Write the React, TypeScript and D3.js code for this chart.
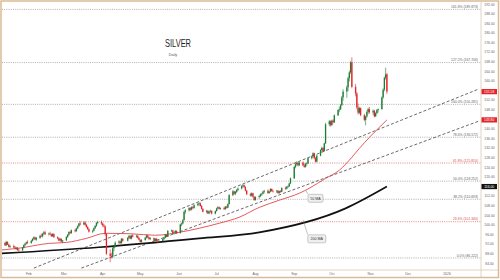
import * as d3 from "d3";

const W = 500;
const H = 280;

// daily candles [open, high, low, close], one row per trading week
const ohlc: number[][] = [
  [89.5, 91.0, 89.0, 90.6], [90.6, 91.4, 90.0, 90.8],
  [90.8, 92.0, 90.3, 91.5], [91.5, 92.6, 91.0, 92.2], [92.2, 92.5, 91.2, 91.6], [91.6, 92.3, 91.1, 91.9], [91.9, 93.0, 91.5, 92.5],
  [92.5, 93.0, 91.2, 91.5], [91.5, 93.4, 91.3, 92.9], [92.9, 93.2, 91.6, 91.8], [91.8, 92.1, 90.6, 90.9], [90.9, 91.7, 90.3, 91.2],
  [91.2, 91.8, 90.4, 90.6], [90.6, 91.2, 89.8, 90.1], [90.1, 90.9, 89.5, 90.5], [90.5, 90.8, 89.2, 89.6], [89.6, 90.2, 88.9, 89.4],
  [89.4, 90.8, 89.0, 90.5], [90.5, 91.9, 90.2, 91.6], [91.6, 92.5, 91.1, 92.2], [92.2, 93.1, 91.8, 92.8], [92.8, 93.6, 92.0, 92.5],
  [92.5, 93.8, 92.1, 93.4], [93.4, 94.6, 93.0, 94.2], [94.2, 95.3, 93.8, 94.8], [94.8, 95.1, 93.6, 93.9], [93.9, 95.0, 93.4, 94.6],
  [94.6, 95.9, 94.2, 95.5], [95.5, 96.4, 94.9, 95.2], [95.2, 96.7, 94.8, 96.3], [96.3, 97.4, 95.9, 96.9], [96.9, 97.6, 95.8, 96.1],
  [96.1, 96.8, 95.6, 96.4], [96.4, 97.2, 95.8, 96.0], [96.0, 96.5, 95.0, 95.3], [95.3, 96.6, 95.0, 96.2], [96.2, 96.5, 94.6, 94.9],
  [94.9, 95.3, 94.0, 94.4], [94.4, 94.7, 93.2, 93.5], [93.5, 94.6, 93.1, 94.2], [94.2, 94.4, 92.8, 93.1], [93.1, 93.5, 92.4, 93.6],
  [93.6, 95.4, 93.3, 95.0], [95.0, 96.2, 94.6, 95.9], [95.9, 97.3, 95.5, 97.0], [97.0, 97.6, 96.2, 96.6], [96.6, 98.1, 96.3, 97.8],
  [97.8, 98.3, 96.9, 97.4], [97.4, 98.9, 97.1, 98.6], [98.6, 99.8, 98.2, 99.5], [99.5, 100.9, 99.1, 100.6], [100.6, 101.6, 99.8, 100.2],
  [100.2, 101.4, 99.9, 101.0], [101.0, 101.6, 99.6, 100.1], [100.1, 100.5, 98.8, 99.1], [99.1, 99.6, 97.9, 98.2], [98.2, 98.6, 96.8, 97.2],
  [97.2, 98.0, 96.6, 97.6], [97.6, 99.0, 97.3, 98.7], [98.7, 99.9, 98.3, 99.6], [99.6, 101.2, 99.2, 100.8], [100.8, 101.8, 100.3, 101.2],
  [101.2, 101.9, 100.0, 100.6], [100.6, 101.0, 99.2, 99.8], [99.8, 100.4, 98.9, 99.4], [99.4, 99.8, 95.5, 96.2], [96.2, 96.5, 87.5, 88.0],
  [88.0, 89.8, 84.4, 87.1], [87.1, 88.4, 86.0, 86.7], [86.7, 90.8, 86.2, 90.3], [90.3, 91.4, 89.0, 90.9], [90.9, 93.2, 90.5, 92.6],
  [92.6, 93.6, 92.0, 93.1], [93.1, 93.4, 92.1, 92.4], [92.4, 94.6, 92.2, 94.2], [94.2, 94.5, 93.0, 93.4],
  [93.4, 95.0, 93.1, 94.6], [94.6, 95.8, 94.2, 95.4], [95.4, 95.7, 94.0, 94.3], [94.3, 95.9, 94.0, 95.6], [95.6, 96.2, 94.8, 95.1],
  [95.1, 95.9, 94.7, 95.5], [95.5, 95.7, 94.3, 94.6], [94.6, 94.9, 93.5, 93.8], [93.8, 94.0, 92.6, 92.9], [92.9, 94.1, 92.6, 93.7],
  [93.7, 95.0, 93.4, 94.7], [94.7, 96.0, 94.3, 95.6], [95.6, 95.9, 94.4, 94.8], [94.8, 95.1, 93.8, 94.1], [94.1, 94.9, 93.7, 94.5],
  [94.5, 94.8, 92.9, 93.3], [93.3, 94.6, 93.0, 94.2], [94.2, 94.6, 93.1, 93.4], [93.4, 93.8, 92.5, 93.1], [93.1, 93.9, 92.7, 93.3],
  [93.3, 94.4, 93.0, 94.1], [94.1, 95.0, 93.8, 94.6], [94.6, 96.2, 94.4, 95.9], [95.9, 96.1, 94.9, 95.2], [95.2, 97.9, 95.0, 97.5],
  [97.5, 98.1, 97.0, 97.7], [97.7, 97.9, 96.3, 96.6], [96.6, 97.2, 96.0, 96.8], [96.8, 97.9, 96.4, 97.5], [97.5, 97.7, 96.2, 96.6],
  [96.6, 100.6, 96.4, 100.2], [100.2, 101.0, 99.4, 100.6], [100.6, 102.4, 100.2, 102.0], [102.0, 106.0, 101.8, 105.4], [105.4, 106.6, 104.6, 106.1],
  [106.1, 107.4, 105.6, 107.0], [107.0, 107.5, 105.9, 106.4], [106.4, 107.8, 106.0, 107.4], [107.4, 108.0, 106.6, 107.1], [107.1, 108.6, 106.7, 108.2],
  [108.2, 109.2, 107.8, 108.8], [108.8, 109.6, 108.1, 109.0], [109.0, 109.3, 107.6, 107.9], [107.9, 108.3, 106.4, 106.7], [106.7, 107.0, 105.2, 105.5],
  [105.5, 106.3, 104.9, 105.9], [105.9, 106.1, 104.5, 104.8], [104.8, 105.9, 104.5, 105.6], [105.6, 106.4, 105.1, 105.9], [105.9, 106.0, 104.4, 104.7],
  [104.7, 106.0, 104.4, 105.8], [105.8, 107.2, 105.5, 106.9], [106.9, 107.8, 106.5, 107.4], [107.4, 107.7, 106.4, 106.7], [106.7, 107.3, 106.3, 107.0],
  [107.0, 107.6, 106.2, 106.6], [106.6, 107.9, 106.3, 107.6], [107.6, 108.0, 106.8, 107.2], [107.2, 109.0, 107.0, 108.7], [108.7, 112.9, 108.5, 112.4],
  [112.4, 114.6, 112.0, 114.0], [114.0, 114.3, 112.6, 113.0], [113.0, 114.2, 112.4, 113.8], [113.8, 115.0, 113.3, 114.6], [114.6, 115.6, 114.1, 115.2],
  [115.2, 116.6, 114.8, 116.2], [116.2, 117.0, 115.6, 116.5], [116.5, 116.9, 115.4, 115.8], [115.8, 116.1, 114.0, 114.3], [114.3, 114.6, 112.4, 112.8],
  [112.8, 113.4, 111.8, 112.2], [112.2, 113.6, 111.9, 113.2], [113.2, 113.4, 111.4, 111.7], [111.7, 112.0, 110.0, 110.4], [110.4, 112.0, 110.1, 111.6],
  [111.6, 112.4, 110.9, 112.0], [112.0, 113.1, 111.6, 112.8], [112.8, 113.4, 112.1, 113.0], [113.0, 114.2, 112.7, 113.9], [113.9, 114.6, 113.1, 114.3],
  [114.3, 114.8, 112.9, 113.3], [113.3, 114.2, 113.0, 113.9], [113.9, 115.3, 113.6, 115.0], [115.0, 115.2, 113.8, 114.2], [114.2, 114.7, 113.5, 114.0],
  [114.0, 114.6, 113.4, 114.3], [114.3, 114.5, 112.9, 113.3], [113.3, 114.4, 113.0, 114.1], [114.1, 114.5, 113.4, 113.8], [113.8, 115.7, 113.6, 115.4],
  [115.4, 116.0, 114.7, 115.1], [115.1, 116.2, 114.8, 115.9], [115.9, 116.5, 115.3, 116.1], [116.1, 117.6, 115.8, 117.3], [117.3, 119.8, 117.0, 119.4],
  [119.4, 124.6, 119.2, 124.2], [124.2, 125.8, 123.6, 125.3], [125.3, 126.6, 124.6, 125.9], [125.9, 126.2, 124.4, 124.9], [124.9, 126.4, 124.5, 126.0],
  [126.0, 126.5, 124.5, 124.8], [124.8, 125.6, 123.8, 124.2], [124.2, 125.9, 123.9, 125.5], [125.5, 126.1, 124.7, 125.7], [125.7, 128.2, 125.4, 127.8],
  [127.8, 129.0, 127.3, 128.6], [128.6, 130.3, 128.2, 129.9], [129.9, 130.1, 127.4, 127.8], [127.8, 128.3, 126.0, 126.4], [126.4, 129.3, 126.1, 128.9],
  [128.9, 131.6, 128.6, 131.2], [131.2, 132.6, 130.5, 132.1], [132.1, 132.4, 130.3, 130.8], [130.8, 134.3, 130.6, 134.0], [134.0, 142.6, 133.8, 142.0],
  [142.0, 143.8, 141.2, 143.2], [143.2, 143.6, 141.0, 141.6], [141.6, 143.9, 141.3, 143.5], [143.5, 144.0, 142.2, 142.8], [142.8, 146.1, 142.5, 145.7],
  [145.7, 148.3, 145.4, 147.9], [147.9, 149.4, 147.0, 148.2], [148.2, 150.5, 147.9, 149.9], [149.9, 153.8, 149.6, 153.2], [153.2, 156.6, 151.8, 155.6],
  [155.6, 158.2, 153.0, 157.4], [157.4, 161.9, 155.8, 161.2], [161.2, 164.3, 159.8, 163.6], [163.6, 168.4, 163.0, 167.8], [167.8, 169.9, 157.0, 157.6],
  [157.6, 158.8, 153.6, 154.8], [154.8, 155.4, 148.2, 149.0], [149.0, 150.6, 146.0, 146.8], [146.8, 149.3, 146.2, 148.7], [148.7, 149.0, 145.3, 145.8],
  [145.8, 146.4, 143.2, 143.8], [143.8, 145.6, 141.5, 145.2], [145.2, 147.8, 144.7, 147.1], [147.1, 148.9, 146.2, 148.3], [148.3, 149.2, 146.4, 146.9],
  [146.9, 148.2, 145.9, 147.6], [147.6, 148.0, 144.8, 145.3], [145.3, 147.0, 145.0, 146.6], [146.6, 148.3, 146.2, 147.9], [147.9, 148.6, 146.8, 148.3],
  [148.3, 153.6, 148.0, 153.2], [153.2, 157.0, 152.6, 156.4], [156.4, 161.8, 155.8, 161.4], [161.4, 165.6, 160.6, 162.8], [162.8, 163.4, 154.6, 155.58],
];

const ma50: [string, number][] = [
  ["2025-01-02", 89.2], ["2025-01-24", 90.3], ["2025-02-17", 92.3], ["2025-03-03", 92.7],
  ["2025-03-19", 94.4], ["2025-04-03", 96.5], ["2025-04-24", 96.3], ["2025-05-13", 95.7],
  ["2025-06-01", 96.9], ["2025-06-17", 98.6], ["2025-07-03", 100.7], ["2025-07-19", 103.2],
  ["2025-08-04", 107.3], ["2025-08-20", 110.3], ["2025-09-05", 113.2], ["2025-09-13", 115.3],
  ["2025-09-26", 119.4], ["2025-10-07", 122.8], ["2025-10-17", 128.2], ["2025-10-23", 131.9],
  ["2025-10-31", 136.5], ["2025-11-08", 140.7], ["2025-11-14", 143.8],
];

const ma200: [string, number][] = [
  ["2025-01-02", 87.9], ["2025-03-29", 90.7], ["2025-06-17", 94.4],
  ["2025-08-04", 96.9], ["2025-10-12", 106.9], ["2025-11-14", 116.0],
];

const fibPct = ["161.8%", "127.2%", "100.0%", "78.6%", "61.8%", "50.0%", "38.2%", "23.6%", "0.0%"];
const fibVal = [189.873, 167.706, 150.281, 136.572, 125.810, 118.252, 110.693, 101.340, 86.222];
const fibRed = [false, false, false, false, true, false, false, true, false];

// dashed channel, two anchor points each
const channels: [string, number][][] = [
  [["2025-02-05", 82.0], ["2026-01-26", 156.6]],
  [["2025-03-15", 82.0], ["2026-01-26", 143.2]],
];

const monthLabels = ["Feb", "Mar", "Apr", "May", "Jun", "Jul", "Aug", "Sep", "Oct", "Nov", "Dec", "2026"];
const priceTicks = d3.range(84, 193, 4);

const maLabels = [
  { text: "50 MA", date: "2025-09-18", value: 111.1, toDate: "2025-09-10", toValue: 114.6, w: 15 },
  { text: "200 MA", date: "2025-09-19", value: 94.2, toDate: "2025-09-08", toValue: 102.1, w: 18 },
];

const parse = d3.timeParse("%Y-%m-%d");
const days = d3.timeDay
  .range(new Date(2025, 0, 2), new Date(2025, 10, 15))
  .filter((d) => d.getDay() !== 0 && d.getDay() !== 6 && !(d.getMonth() === 3 && d.getDate() === 18));

const PL = 2, PR = 481, PT = 2, PB = 270;
const FONT = "'Liberation Sans', Arial, sans-serif";

export default function App() {
  const x = d3.scaleTime().domain([new Date(2025, 0, 1), new Date(2026, 0, 1)]).range([-10, 447]);
  const y = d3.scaleLinear().domain([84, 192]).range([263.3, 4.3]);

  const line = d3
    .line<[string, number]>()
    .x((d) => x(parse(d[0])!))
    .y((d) => y(d[1]))
    .curve(d3.curveMonotoneX);

  const months = d3.timeMonth.range(new Date(2025, 1, 1), new Date(2026, 0, 2));
  const n = Math.min(days.length, ohlc.length);
  const last = ohlc[n - 1];

  const badges = [
    { v: last[3], fill: last[3] < last[0] ? "#e2232a" : "#1e8a3c" },
    { v: ma50[ma50.length - 1][1], fill: "#e2232a" },
    { v: ma200[ma200.length - 1][1], fill: "#111" },
  ];

  return (
    <svg width={W} height={H} style={{ position: "absolute", left: 0, top: 0, background: "#fff" }} fontFamily={FONT}>
      <defs>
        <clipPath id="plot">
          <rect x={PL} y={PT} width={PR - PL} height={PB - PT} />
        </clipPath>
      </defs>

      {/* title */}
      <text x={178} y={47} textAnchor="middle" fontSize={10.5} fill="#222" textLength={26} lengthAdjust="spacingAndGlyphs">
        SILVER
      </text>
      <text x={173} y={56} textAnchor="middle" fontSize={3.8} fill="#555">
        Daily
      </text>

      <g clipPath="url(#plot)">
        {/* fibonacci levels */}
        {fibVal.map((v, i) => (
          <g key={fibPct[i]}>
            <line x1={PL} x2={PR} y1={y(v)} y2={y(v)} stroke={fibRed[i] ? "#e06b6b" : "#9a9a9a"} strokeWidth={0.8} strokeDasharray="1,1.2" />
            <text x={478} y={y(v) - 1.3} textAnchor="end" fontSize={3.4} fill={fibRed[i] ? "#d9534f" : "#666"}>
              {`${fibPct[i]} (${v.toFixed(3)})`}
            </text>
          </g>
        ))}

        {/* channel */}
        {channels.map((c, i) => {
          const x1 = x(parse(c[0][0])!), y1 = y(c[0][1]);
          const x2 = x(parse(c[1][0])!), y2 = y(c[1][1]);
          return <line key={i} x1={x1} y1={y1} x2={x2} y2={y2} stroke="#444" strokeWidth={0.8} strokeDasharray="3,2" />;
        })}

        {/* moving averages */}
        <path d={line(ma200) ?? ""} fill="none" stroke="#111" strokeWidth={1.7} />
        <path d={line(ma50) ?? ""} fill="none" stroke="#e0474c" strokeWidth={0.9} />

        {/* candles */}
        {ohlc.slice(0, n).map((c, i) => {
          const cx = x(days[i]);
          const up = c[3] >= c[0];
          const col = up ? "#1e7d34" : "#e2232a";
          const top = y(Math.max(c[0], c[3]));
          const bot = y(Math.min(c[0], c[3]));
          return (
            <g key={i}>
              <line x1={cx} x2={cx} y1={y(c[1])} y2={y(c[2])} stroke={col} strokeWidth={0.6} />
              <rect x={cx - 0.65} y={top} width={1.3} height={Math.max(0.6, bot - top)} fill={col} />
            </g>
          );
        })}

        {/* MA labels */}
        {maLabels.map((m) => {
          const bx = x(parse(m.date)!), by = y(m.value);
          return (
            <g key={m.text}>
              <line x1={bx - m.w / 2} y1={by - 4} x2={x(parse(m.toDate)!)} y2={y(m.toValue)} stroke="#888" strokeWidth={0.5} />
              <rect x={bx - m.w / 2} y={by - 4} width={m.w} height={8} rx={1.5} fill="#efefef" stroke="#999" strokeWidth={0.5} />
              <text x={bx} y={by + 1.3} textAnchor="middle" fontSize={3.6} fill="#333">
                {m.text}
              </text>
            </g>
          );
        })}
      </g>

      {/* axes frame */}
      <line x1={PR} x2={PR} y1={PT} y2={277} stroke="#d8c9b6" strokeWidth={0.8} />
      <line x1={PL} x2={498} y1={PB} y2={PB} stroke="#d8c9b6" strokeWidth={0.8} />

      {priceTicks.map((t) => (
        <text key={t} x={489.5} y={y(t) + 1.2} textAnchor="middle" fontSize={3.4} fill="#666">
          {t.toFixed(2)}
        </text>
      ))}

      {months.map((m, i) => (
        <text key={i} x={x(m)} y={274.8} textAnchor="middle" fontSize={3.4} fill="#666">
          {monthLabels[i]}
        </text>
      ))}

      {badges.map((b, i) => (
        <g key={i}>
          <rect x={481.5} y={y(b.v) - 2.6} width={15.5} height={5.2} fill={b.fill} />
          <text x={489.2} y={y(b.v) + 1.2} textAnchor="middle" fontSize={3.4} fill="#fff">
            {b.v.toFixed(2)}
          </text>
        </g>
      ))}

      <rect x={1} y={1} width={497.5} height={276.5} fill="none" stroke="#dcb994" strokeWidth={1.5} />
    </svg>
  );
}
